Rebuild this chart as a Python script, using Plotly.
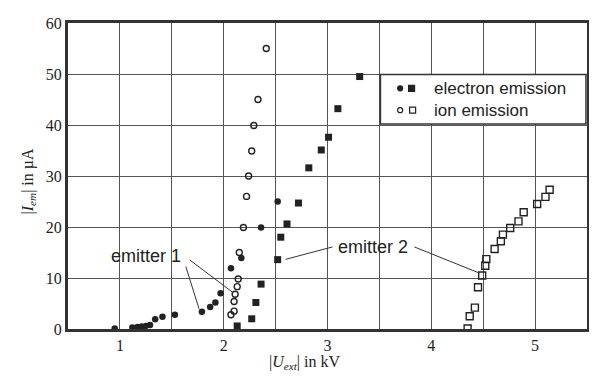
import plotly.graph_objects as go

# electron emission, emitter 1 (filled circles)
elec_e1_x = [0.95, 1.12, 1.17, 1.21, 1.25, 1.29, 1.34, 1.41, 1.53, 1.79, 1.87, 1.92, 1.97, 2.07, 2.17, 2.36, 2.52]
elec_e1_y = [0.1, 0.3, 0.4, 0.5, 0.6, 0.8, 1.9, 2.4, 2.8, 3.4, 4.3, 5.2, 7.0, 11.9, 13.9, 19.9, 25.0]
# electron emission, emitter 2 (filled squares)
elec_e2_x = [2.13, 2.27, 2.31, 2.36, 2.52, 2.55, 2.61, 2.72, 2.82, 2.94, 3.01, 3.10, 3.31]
elec_e2_y = [0.6, 2.0, 5.2, 8.8, 13.6, 18.0, 20.6, 24.7, 31.6, 35.1, 37.6, 43.2, 49.5]
# ion emission, emitter 1 (open circles)
ion_e1_x = [2.07, 2.10, 2.10, 2.11, 2.13, 2.14, 2.15, 2.19, 2.22, 2.24, 2.27, 2.29, 2.33, 2.41]
ion_e1_y = [2.8, 3.5, 5.4, 6.8, 8.3, 9.8, 15.0, 19.9, 26.0, 30.0, 34.9, 39.9, 45.0, 55.0]
# ion emission, emitter 2 (open squares)
ion_e2_x = [4.35, 4.37, 4.42, 4.45, 4.49, 4.52, 4.53, 4.61, 4.67, 4.69, 4.76, 4.84, 4.89, 5.02, 5.10, 5.14]
ion_e2_y = [0.1, 2.5, 4.2, 8.2, 10.5, 12.4, 13.7, 15.7, 17.2, 18.5, 19.8, 21.1, 22.9, 24.5, 25.9, 27.3]

x_tickvals = [1, 2, 3, 4, 5]
x_ticktext = ["1", "2", "3", "4", "5"]
y_tickvals = [0, 10, 20, 30, 40, 50, 60]
y_ticktext = ["0", "10", "20", "30", "40", "50", "60"]

INK = "#222222"
fig = go.Figure()
fig.add_trace(go.Scatter(x=elec_e1_x, y=elec_e1_y, mode="markers",
                         marker=dict(symbol="circle", size=6.5, color=INK), showlegend=False))
fig.add_trace(go.Scatter(x=elec_e2_x, y=elec_e2_y, mode="markers",
                         marker=dict(symbol="square", size=7, color=INK), showlegend=False))
fig.add_trace(go.Scatter(x=ion_e1_x, y=ion_e1_y, mode="markers",
                         marker=dict(symbol="circle-open", size=6, color=INK, line=dict(width=1.4)),
                         showlegend=False))
fig.add_trace(go.Scatter(x=ion_e2_x, y=ion_e2_y, mode="markers",
                         marker=dict(symbol="square-open", size=7, color=INK, line=dict(width=1.4)),
                         showlegend=False))

serif = "Liberation Serif"
sans = "Liberation Sans"

shapes = []
# legend box
shapes.append(dict(type="rect", xref="x", yref="y", x0=3.51, x1=5.49, y0=40.2, y1=49.9,
                   fillcolor="white", line=dict(color="#333", width=1.5), layer="above"))
# legend symbols
def pix_marker(kind, x, y, r, filled):
    return dict(type=kind, xref="x", yref="y", xsizemode="pixel", ysizemode="pixel",
                xanchor=x, yanchor=y, x0=-r, x1=r, y0=-r, y1=r,
                fillcolor=INK if filled else "white", line=dict(color=INK, width=1.2), layer="above")
shapes.append(pix_marker("circle", 3.70, 47.2, 2.5, True))
shapes.append(pix_marker("rect", 3.81, 47.2, 3, True))
shapes.append(pix_marker("circle", 3.70, 42.9, 2.5, False))
shapes.append(pix_marker("rect", 3.82, 42.9, 3, False))
# leader lines
for (x0, y0, x1, y1) in [(1.635, 12.26, 1.762, 3.97), (1.673, 13.54, 2.089, 7.15),
                         (3.048, 16.09, 2.596, 13.66), (3.837, 16.09, 4.462, 10.98)]:
    shapes.append(dict(type="line", xref="x", yref="y", x0=x0, y0=y0, x1=x1, y1=y1,
                       line=dict(color="#333", width=1)))

annotations = [
    dict(x=4.01, y=47.2, xref="x", yref="y", text="electron emission", showarrow=False,
         xanchor="left", font=dict(family=sans, size=17, color=INK)),
    dict(x=4.01, y=42.9, xref="x", yref="y", text="ion emission", showarrow=False,
         xanchor="left", font=dict(family=sans, size=17, color=INK)),
    dict(x=1.25, y=14.4, xref="x", yref="y", text="emitter 1", showarrow=False,
         font=dict(family=sans, size=18, color=INK)),
    dict(x=3.44, y=16.1, xref="x", yref="y", text="emitter 2", showarrow=False,
         font=dict(family=sans, size=18, color=INK)),
    dict(x=(306 - 68) / 522, y=-0.109, xref="paper", yref="paper",
         text="|<i>U<sub>ext</sub></i>| in kV", showarrow=False, yanchor="middle",
         font=dict(family=serif, size=16, color=INK)),
    dict(x=-0.077, y=(329 - 178) / 313, xref="paper", yref="paper",
         text="|<i>I<sub>em</sub></i>| in µA", showarrow=False, textangle=-90,
         xanchor="center", yanchor="middle", font=dict(family=serif, size=16, color=INK)),
]

# the page body has an 8px margin, so the figure is drawn 8px smaller and offset
fig.update_layout(
    width=589, height=371,
    margin=dict(l=60, r=7, t=8, b=50),
    paper_bgcolor="white", plot_bgcolor="white",
    shapes=shapes, annotations=annotations,
    xaxis=dict(range=[0.5, 5.5], tickvals=x_tickvals, ticktext=x_ticktext,
               showgrid=True, gridcolor="#555", gridwidth=1, zeroline=False,
               minor=dict(dtick=0.5, tick0=0.5, showgrid=True, gridcolor="#555", gridwidth=1, ticks=""),
               showline=True, linecolor="#333", linewidth=3, mirror=True,
               ticks="", tickfont=dict(family=serif, size=16, color=INK)),
    yaxis=dict(range=[0, 60], tickvals=y_tickvals, ticktext=y_ticktext,
               showgrid=True, gridcolor="#555", gridwidth=1, zeroline=False,
               showline=True, linecolor="#333", linewidth=3, mirror=True,
               ticks="", tickfont=dict(family=serif, size=16, color=INK)),
)

fig.write_html("out.html")
